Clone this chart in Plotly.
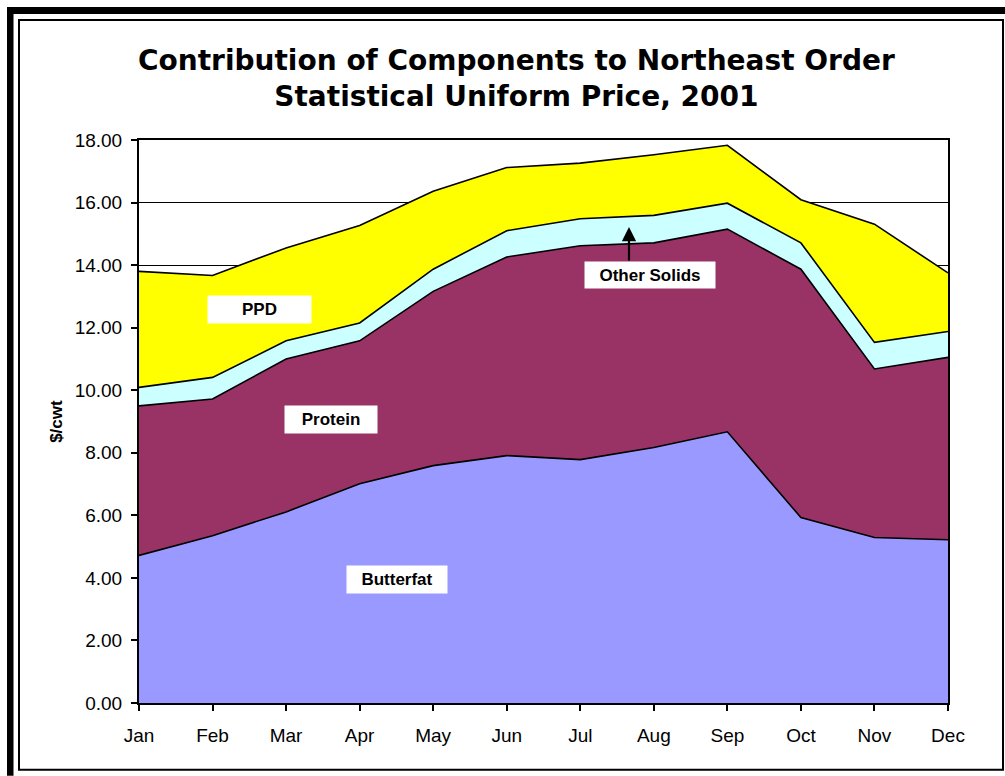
import plotly.graph_objects as go

months = ["Jan", "Feb", "Mar", "Apr", "May", "Jun", "Jul", "Aug", "Sep", "Oct", "Nov", "Dec"]
butterfat = [4.72, 5.35, 6.11, 7.01, 7.59, 7.91, 7.78, 8.17, 8.67, 5.93, 5.29, 5.22]
protein = [4.78, 4.37, 4.89, 4.57, 5.57, 6.35, 6.84, 6.54, 6.48, 7.94, 5.39, 5.83]
other_solids = [0.59, 0.69, 0.58, 0.57, 0.71, 0.84, 0.86, 0.88, 0.83, 0.84, 0.85, 0.83]
ppd = [3.71, 3.26, 2.97, 3.12, 2.49, 2.02, 1.78, 1.94, 1.85, 1.38, 3.78, 1.87]
y_ticks = [0, 2, 4, 6, 8, 10, 12, 14, 16, 18]

W, H = 1005, 776
L, R, T, B = 139, 948, 140, 703.3

def px(x):
    return (x - L) / (R - L)

def py(y):
    return (B - y) / (B - T)

series = [
    ("Butterfat", butterfat, "#9999FF"),
    ("Protein", protein, "#993366"),
    ("Other Solids", other_solids, "#CCFFFF"),
    ("PPD", ppd, "#FFFF00"),
]

fig = go.Figure()
for name, vals, col in series:
    fig.add_trace(go.Scatter(
        x=months, y=vals, name=name, mode="lines", stackgroup="one",
        fillcolor=col, line=dict(color="black", width=1.6),
        hoverinfo="x+y+name",
    ))

tick_font = dict(family="Liberation Sans, Arial", size=19, color="black")

fig.update_layout(
    width=W, height=H,
    margin=dict(l=L, r=W - R, t=T, b=H - B, pad=0),
    paper_bgcolor="white", plot_bgcolor="white",
    showlegend=False,
    xaxis=dict(
        type="category", range=[0, len(months) - 1],
        showline=True, linecolor="black", linewidth=2, mirror=True,
        ticks="outside", ticklen=6, tickwidth=2, tickcolor="black",
        tickfont=tick_font, showgrid=False, zeroline=False,
        ticklabelstandoff=8,
    ),
    yaxis=dict(
        range=[0, 18], tickvals=y_ticks,
        ticktext=[f"{v:.2f}" for v in y_ticks],
        showline=True, linecolor="black", linewidth=2, mirror=True,
        ticks="outside", ticklen=6, tickwidth=2, tickcolor="black",
        tickfont=tick_font, showgrid=True, gridcolor="black", gridwidth=1,
        zeroline=False, ticklabelstandoff=5,
    ),
)

# title
fig.add_annotation(
    xref="paper", yref="paper", x=px(516), y=py(78),
    text="<b>Contribution of Components to Northeast Order<br>Statistical Uniform Price, 2001</b>",
    showarrow=False, font=dict(family="DejaVu Sans, Verdana", size=28, color="black"),
    align="center", xanchor="center", yanchor="middle",
)

# y axis title
fig.add_annotation(
    xref="paper", yref="paper", x=px(57), y=py(422),
    text="<b>$/cwt</b>", textangle=-90, showarrow=False,
    font=dict(family="Liberation Sans, Arial", size=17, color="black"),
    xanchor="center", yanchor="middle",
)

# labels in the areas
label_font = dict(family="Liberation Sans, Arial", size=17, color="black")
labels = [
    ("PPD", 259.5, 309.5, 103, 27),
    ("Protein", 331, 419.5, 92, 27),
    ("Butterfat", 397, 579.5, 100, 27),
    ("Other Solids", 650, 275, 130, 26),
]
for text, cx, cy, w, h in labels:
    fig.add_annotation(
        xref="paper", yref="paper", x=px(cx), y=py(cy),
        text=f"<b>{text}</b>", showarrow=False, bgcolor="white",
        width=w, height=h, borderpad=0, font=label_font,
        xanchor="center", yanchor="middle",
    )

# arrow to Other Solids band
fig.add_annotation(
    xref="paper", yref="paper", x=px(629), y=py(227),
    axref="pixel", ayref="pixel", ax=0, ay=35,
    text="", showarrow=True, arrowhead=2, arrowsize=1.3, arrowwidth=2.2,
    arrowcolor="black",
)

# outer frames
shapes = [
    dict(type="rect", xref="paper", yref="paper", x0=px(7), x1=px(1005), y0=py(7), y1=py(14),
         fillcolor="black", line=dict(width=0), layer="above"),
    dict(type="rect", xref="paper", yref="paper", x0=px(7), x1=px(13.5), y0=py(7), y1=py(776),
         fillcolor="black", line=dict(width=0), layer="above"),
    dict(type="rect", xref="paper", yref="paper", x0=px(19), x1=px(1003), y0=py(20), y1=py(770),
         fillcolor="rgba(0,0,0,0)", line=dict(color="black", width=2), layer="above"),
]
fig.update_layout(shapes=shapes)

fig.write_html(
    "out.html",
    config={"displayModeBar": False},
    post_script="document.body.style.margin='0';document.body.style.overflow='hidden';",
)
